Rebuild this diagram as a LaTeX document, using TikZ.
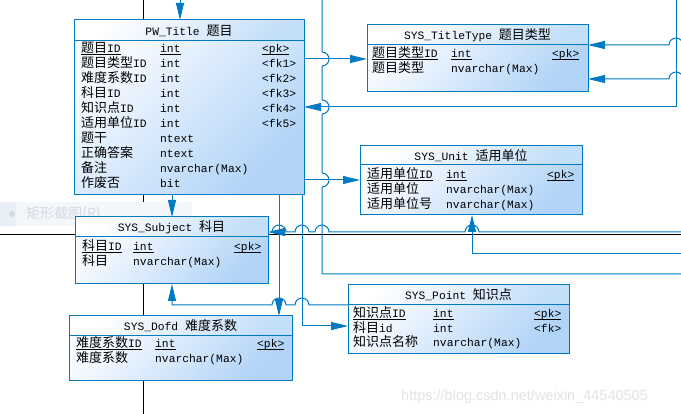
\documentclass[tikz,border=0pt]{standalone}
\usepackage{fontspec}
\setmainfont{Liberation Mono}
\newfontfamily\cjk[Scale=1.15]{Noto Sans CJK SC}
\newfontfamily\wmfont{Liberation Sans}
\newcommand\zh[1]{{\cjk #1}}
\newcommand\pkul[1]{\setbox0\hbox{#1}\rlap{\rule[-2pt]{\wd0}{0.9pt}}\box0}
\usetikzlibrary{arrows.meta}
\definecolor{erblue}{RGB}{0,122,195}
\definecolor{erhead}{RGB}{196,223,249}
\definecolor{erpale}{RGB}{246,250,255}
\definecolor{erdeep}{RGB}{176,211,247}
\definecolor{menubg}{RGB}{243,246,251}
\definecolor{menuside}{RGB}{233,239,247}
\definecolor{menugray}{RGB}{214,218,224}
\tikzset{
  thead/.style={draw=erblue, line width=1pt, anchor=north west, inner sep=0pt, outer sep=0pt,
    top color=white, bottom color=erhead, shading angle=45, font=\fontsize{11.3}{13}\selectfont},
  tbody/.style={draw=erblue, line width=1pt, anchor=north west, inner sep=0pt, outer sep=0pt,
    top color=erpale, bottom color=erdeep, shading angle=45},
  cell/.style={anchor=base west, inner sep=0pt, font=\fontsize{11.3}{13}\selectfont},
  pageline/.style={black, line width=1pt},
  link/.style={erblue, line width=1pt},
  fk/.style={link, -{Triangle[length=17pt,width=8pt]}},
}
\begin{document}
\begin{tikzpicture}[x=1pt, y=-1pt]
\useasboundingbox (0,0) rectangle (681,414);
\fill[white] (0,0) rectangle (681,414);

% page borders of the model
\draw[pageline] (143,0) -- (143,414);
\draw[pageline] (0,235) -- (681,235);

% left over from the screenshot menu
\fill[menubg] (0,202) rectangle (192,226);
\fill[menuside] (0,202) rectangle (16,226);
\node[circle, fill=menugray, inner sep=0pt, minimum size=6pt] (dot) at (12,214) {};
\node[anchor=base west, inner sep=0pt, text=menugray, font=\cjk\fontsize{12.2}{14}\selectfont] (menu) at (26,219) {矩形截图(R)};

% PW_Title
\node[thead, minimum width=230pt, minimum height=21pt] (ttl-h) at (74,20) {PW\_Title \zh{题目}};
\node[tbody, minimum width=230pt, minimum height=154pt] (ttl) at (74,41) {};
\foreach \n/\t/\k [count=\i] in {
  \pkul{\zh{题目}ID}/\pkul{int}/\pkul{<pk>},
  \zh{题目类型}ID/int/<fk1>,
  \zh{难度系数}ID/int/<fk2>,
  \zh{科目}ID/int/<fk3>,
  \zh{知识点}ID/int/<fk4>,
  \zh{适用单位}ID/int/<fk5>,
  \zh{题干}/ntext/{},
  \zh{正确答案}/ntext/{},
  \zh{备注}/nvarchar(Max)/{},
  \zh{作废否}/bit/{}}{
  \node[cell] (ttl-n\i) at (81,{38+15*\i}) {\n};
  \node[cell] (ttl-t\i) at (160,{38+15*\i}) {\t};
  \node[cell] (ttl-k\i) at (262,{38+15*\i}) {\k};
}

% SYS_TitleType
\node[thead, minimum width=221pt, minimum height=20pt] (ttype-h) at (367,25) {SYS\_TitleType \zh{题目类型}};
\node[tbody, minimum width=221pt, minimum height=47pt] (ttype) at (367,45) {};
\foreach \n/\t/\k [count=\i] in {
  \pkul{\zh{题目类型}ID}/\pkul{int}/\pkul{<pk>},
  \zh{题目类型}/nvarchar(Max)/{}}{
  \node[cell] (ttype-n\i) at (372,{43+15*\i}) {\n};
  \node[cell] (ttype-t\i) at (451,{43+15*\i}) {\t};
  \node[cell] (ttype-k\i) at (552,{43+15*\i}) {\k};
}

% SYS_Unit
\node[thead, minimum width=222pt, minimum height=19pt] (unit-h) at (360,146) {SYS\_Unit \zh{适用单位}};
\node[tbody, minimum width=222pt, minimum height=50pt] (unit) at (360,165) {};
\foreach \n/\t/\k [count=\i] in {
  \pkul{\zh{适用单位}ID}/\pkul{int}/\pkul{<pk>},
  \zh{适用单位}/nvarchar(Max)/{},
  \zh{适用单位号}/nvarchar(Max)/{}}{
  \node[cell] (unit-n\i) at (367,{164+15*\i}) {\n};
  \node[cell] (unit-t\i) at (446,{164+15*\i}) {\t};
  \node[cell] (unit-k\i) at (547,{164+15*\i}) {\k};
}

% SYS_Subject
\node[thead, minimum width=193pt, minimum height=20pt] (subj-h) at (75,217) {SYS\_Subject \zh{科目}};
\node[tbody, minimum width=193pt, minimum height=47pt] (subj) at (75,237) {};
\foreach \n/\t/\k [count=\i] in {
  \pkul{\zh{科目}ID}/\pkul{int}/\pkul{<pk>},
  \zh{科目}/nvarchar(Max)/{}}{
  \node[cell] (subj-n\i) at (82,{236.5+14.5*\i}) {\n};
  \node[cell] (subj-t\i) at (133,{236.5+14.5*\i}) {\t};
  \node[cell] (subj-k\i) at (234,{236.5+14.5*\i}) {\k};
}

% SYS_Dofd
\node[thead, minimum width=223pt, minimum height=20pt] (dofd-h) at (69,316) {SYS\_Dofd \zh{难度系数}};
\node[tbody, minimum width=223pt, minimum height=45pt] (dofd) at (69,336) {};
\foreach \n/\t/\k [count=\i] in {
  \pkul{\zh{难度系数}ID}/\pkul{int}/\pkul{<pk>},
  \zh{难度系数}/nvarchar(Max)/{}}{
  \node[cell] (dofd-n\i) at (76,{333+15*\i}) {\n};
  \node[cell] (dofd-t\i) at (155,{333+15*\i}) {\t};
  \node[cell] (dofd-k\i) at (257,{333+15*\i}) {\k};
}

% SYS_Point
\node[thead, minimum width=221pt, minimum height=20pt] (pnt-h) at (348,285) {SYS\_Point \zh{知识点}};
\node[tbody, minimum width=221pt, minimum height=49pt] (pnt) at (348,305) {};
\foreach \n/\t/\k [count=\i] in {
  \pkul{\zh{知识点}ID}/\pkul{int}/\pkul{<pk>},
  \zh{科目}id/int/<fk>,
  \zh{知识点名称}/nvarchar(Max)/{}}{
  \node[cell] (pnt-n\i) at (353,{303.5+14.5*\i}) {\n};
  \node[cell] (pnt-t\i) at (433,{303.5+14.5*\i}) {\t};
  \node[cell] (pnt-k\i) at (534,{303.5+14.5*\i}) {\k};
}

% references
\coordinate (in0) at (180,0);
\coordinate (in1) at (322,0);
\coordinate (out1) at (683,274);
\coordinate (in2) at (676,0);
\coordinate (in3) at (683,45);
\coordinate (in4) at (683,79);
\coordinate (in5) at (683,232);
\coordinate (in6) at (683,254);

\draw[fk] (in0) -- (in0 |- ttl-h.north);
\draw[link] (in1) -- (322,52) arc[start angle=-90, end angle=90, radius=7]
  -- (322,100) arc[start angle=-90, end angle=90, radius=7]
  -- (322,173) arc[start angle=-90, end angle=90, radius=7]
  -- (322,274) -- (out1);
\draw[fk] (ttl.east |- 0,59) -- (ttype.west |- 0,59);
\draw[fk] (ttl.east |- 0,180) -- (unit.west |- 0,180);
\draw[fk] (in2) |- (ttl.east |- 0,107);
\draw[fk] (in3) arc[start angle=0, end angle=-180, radius=7] -- (ttype.east |- in3);
\draw[fk] (in4) arc[start angle=0, end angle=-180, radius=7] -- (ttype.east |- in4);
\draw[fk] (in5) -- (479,232) arc[start angle=0, end angle=-180, radius=7]
  -- (329,232) arc[start angle=0, end angle=-180, radius=7]
  -- (309,232) arc[start angle=0, end angle=-180, radius=7]
  -- (286,232) arc[start angle=0, end angle=-180, radius=7]
  -- (subj.east |- in5);
\draw[fk] (in6) -| (unit.south -| 472,0);
\draw[fk] (ttl.south -| 172,0) -- (subj-h.north -| 172,0);
\draw[fk] (ttl.south -| 279,0) -- (dofd-h.north -| 279,0);
\draw[fk] (ttl.south -| 302,0) |- (pnt.west |- 0,326);
\draw[fk] (pnt-h.south west) -- (309,305) arc[start angle=0, end angle=-180, radius=7]
  -- (286,305) arc[start angle=0, end angle=-180, radius=7]
  -- (172,305) -- (subj.south -| 172,0);

% watermark
\node[anchor=base west, inner sep=0pt, text=gray!22, font=\wmfont\fontsize{14.5}{16}\selectfont] (wm) at (401,401) {https://blog.csdn.net/weixin\_44540505};
\end{tikzpicture}
\end{document}
